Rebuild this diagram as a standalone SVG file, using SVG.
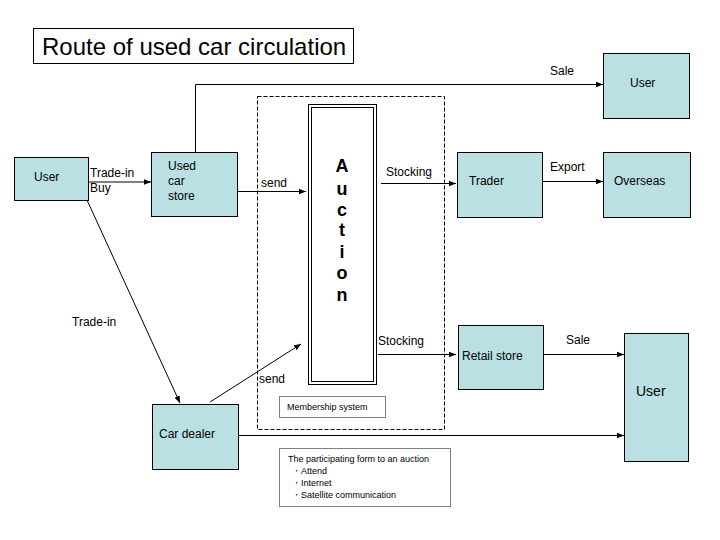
<svg xmlns="http://www.w3.org/2000/svg" width="720" height="540" viewBox="0 0 720 540">
<style>
text{font-family:"Liberation Sans",Arial,sans-serif;fill:#000}
.n{fill:#BBE0E3;stroke:#000;stroke-width:1}
.t{font-size:12px}
.c{stroke:#000;stroke-width:1;fill:none}
.s{font-size:9px}
.a{font-size:18px;font-weight:bold;text-anchor:middle}
.d{fill:#fff;stroke:#000;stroke-dasharray:1,1}
</style>
<defs>
<marker id="ar" viewBox="0 0 10 10" refX="10" refY="5" markerWidth="7" markerHeight="7" markerUnits="userSpaceOnUse" orient="auto">
<path d="M0,1 L10,5 L0,9 z" fill="#000"/>
</marker>
</defs>
<rect width="720" height="540" fill="#fff"/>
<g id="title">
<rect x="33.5" y="28.5" width="320" height="35" fill="#fff" stroke="#000"/>
<text x="42" y="55" font-size="24">Route of used car circulation</text>
</g>
<g id="region-auction">
<rect x="257.5" y="96.5" width="187" height="333" fill="none" stroke="#000" stroke-dasharray="4,2"/>
</g>
<g id="connectors">
<line class="c" x1="88" y1="182" x2="151" y2="182" marker-end="url(#ar)"/>
<polyline class="c" points="195.5,152 195.5,84.5 603,84.5" marker-end="url(#ar)"/>
<line class="c" x1="237" y1="191.5" x2="306" y2="191.5" marker-end="url(#ar)"/>
<line class="c" x1="381" y1="183.5" x2="456" y2="183.5" marker-end="url(#ar)"/>
<line class="c" x1="542" y1="181.5" x2="603" y2="181.5" marker-end="url(#ar)"/>
<line class="c" x1="378" y1="354.5" x2="456" y2="354.5" marker-end="url(#ar)"/>
<line class="c" x1="543" y1="354.5" x2="624" y2="354.5" marker-end="url(#ar)"/>
<line class="c" x1="238" y1="435.5" x2="624" y2="435.5" marker-end="url(#ar)"/>
<line class="c" x1="87" y1="200" x2="180" y2="403" marker-end="url(#ar)"/>
<line class="c" x1="210" y1="402" x2="301" y2="344" marker-end="url(#ar)"/>
<text class="t" x="90" y="177">Trade-in</text>
<text class="t" x="90" y="192">Buy</text>
<text class="t" x="550" y="75">Sale</text>
<text class="t" x="261" y="187">send</text>
<text class="t" x="386" y="176">Stocking</text>
<text class="t" x="550" y="171">Export</text>
<text class="t" x="378" y="345">Stocking</text>
<text class="t" x="566" y="344">Sale</text>
<text class="t" x="72" y="326">Trade-in</text>
<text class="t" x="259" y="383">send</text>
</g>
<g id="user1">
<rect class="n" x="14.5" y="157.5" width="74" height="43"/>
<text class="t" x="34" y="181">User</text>
</g>
<g id="used-car-store">
<rect class="n" x="151.5" y="152.5" width="86" height="64"/>
<text class="t" x="168" y="170">Used</text>
<text class="t" x="168" y="185">car</text>
<text class="t" x="168" y="200">store</text>
</g>
<g id="auction">
<rect x="308.5" y="104.5" width="68" height="280" fill="#fff" stroke="#000"/>
<rect x="311.5" y="107.5" width="62" height="274" fill="none" stroke="#000"/>
<text class="a" x="342" y="172">A</text>
<text class="a" x="342" y="195">u</text>
<text class="a" x="342" y="216">c</text>
<text class="a" x="342" y="236">t</text>
<text class="a" x="342" y="258">i</text>
<text class="a" x="342" y="279">o</text>
<text class="a" x="342" y="301">n</text>
</g>
<g id="membership">
<rect class="d" x="279.5" y="396.5" width="106" height="21"/>
<text class="s" x="287" y="410">Membership system</text>
</g>
<g id="user-top">
<rect class="n" x="603.5" y="53.5" width="86" height="65"/>
<text class="t" x="630" y="87">User</text>
</g>
<g id="trader">
<rect class="n" x="457.5" y="152.5" width="85" height="65"/>
<text class="t" x="469" y="185">Trader</text>
</g>
<g id="overseas">
<rect class="n" x="603.5" y="152.5" width="87" height="65"/>
<text class="t" x="614" y="185">Overseas</text>
</g>
<g id="retail-store">
<rect class="n" x="458.5" y="325.5" width="85" height="64"/>
<text class="t" x="462" y="360">Retail store</text>
</g>
<g id="user-bottom">
<rect class="n" x="624.5" y="333.5" width="64" height="128"/>
<text x="636" y="396" font-size="14">User</text>
</g>
<g id="car-dealer">
<rect class="n" x="152.5" y="404.5" width="86" height="65"/>
<text class="t" x="159" y="438">Car dealer</text>
</g>
<g id="participation">
<rect class="d" x="279.5" y="448.5" width="171" height="58"/>
<text class="s" x="288" y="462">The participating form to an auction</text>
<text class="s" x="292" y="474">・Attend</text>
<text class="s" x="292" y="486">・Internet</text>
<text class="s" x="292" y="498">・Satellite communication</text>
</g>
</svg>
